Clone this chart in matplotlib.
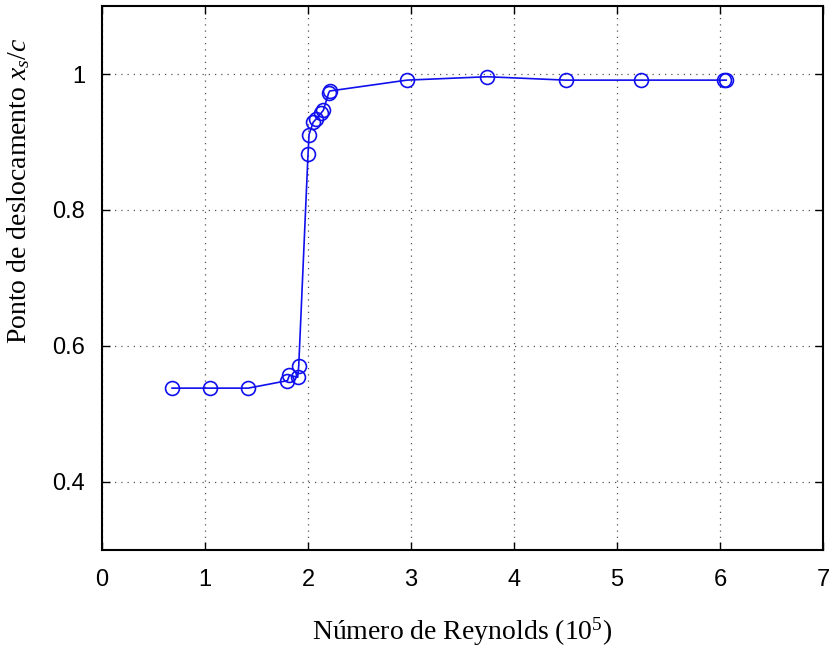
import matplotlib
matplotlib.use('Agg')
import matplotlib.pyplot as plt

# Reynolds number (x 10^5) and separation point x_s/c
reynolds = [0.68, 1.05, 1.42, 1.80, 1.82, 1.90, 1.91, 2.00, 2.01, 2.05, 2.08,
            2.13, 2.15, 2.20, 2.21, 2.96, 3.74, 4.50, 5.23, 6.04, 6.06]
xs_c = [0.538, 0.538, 0.538, 0.549, 0.557, 0.554, 0.571, 0.882, 0.911, 0.929, 0.934,
        0.943, 0.947, 0.972, 0.975, 0.991, 0.996, 0.991, 0.991, 0.991, 0.991]

xticks = [0, 1, 2, 3, 4, 5, 6, 7]
yticks = [0.4, 0.6, 0.8, 1.0]
ytick_labels = ['0.4', '0.6', '0.8', '1']

plt.rcParams['mathtext.fontset'] = 'custom'
plt.rcParams['mathtext.rm'] = 'Liberation Serif'
plt.rcParams['mathtext.it'] = 'Liberation Serif:italic'

fig = plt.figure(figsize=(8.30, 6.47), dpi=100)
ax = fig.add_axes([0.1229, 0.150, 0.8687, 0.8407])

ax.plot(reynolds, xs_c, color='#1010ee', linewidth=1.2, marker='o', markersize=10,
        markerfacecolor='none', markeredgecolor='#1010ee', markeredgewidth=1.2)

ax.set_xlim(0, 7)
ax.set_ylim(0.3, 1.1)
ax.set_xticks(xticks)
ax.set_yticks(yticks)
ax.set_yticklabels(ytick_labels)

ax.grid(True, linestyle=(0, (1, 4)), color='#555555', linewidth=0.9)
ax.tick_params(direction='in', top=True, right=True, length=6, width=1,
               labelsize=17)
ax.tick_params(axis='x', pad=14)
ax.tick_params(axis='y', pad=12)
for lbl in ax.get_xticklabels() + ax.get_yticklabels():
    lbl.set_family('Liberation Sans')
for s in ax.spines.values():
    s.set_linewidth(1.5)

ax.set_xlabel(r'Número de Reynolds (10$^5$)', family='Liberation Serif',
              fontsize=20)
ax.set_ylabel(r'Ponto de deslocamento $x_s/c$', family='Liberation Serif',
              fontsize=20)
# labels sit where the original put them (y label is shifted upward)
ax.xaxis.set_label_coords(0.5, -0.121)
ax.yaxis.set_label_coords(-0.097, 0.66)

fig.savefig('out.png', dpi=100)
